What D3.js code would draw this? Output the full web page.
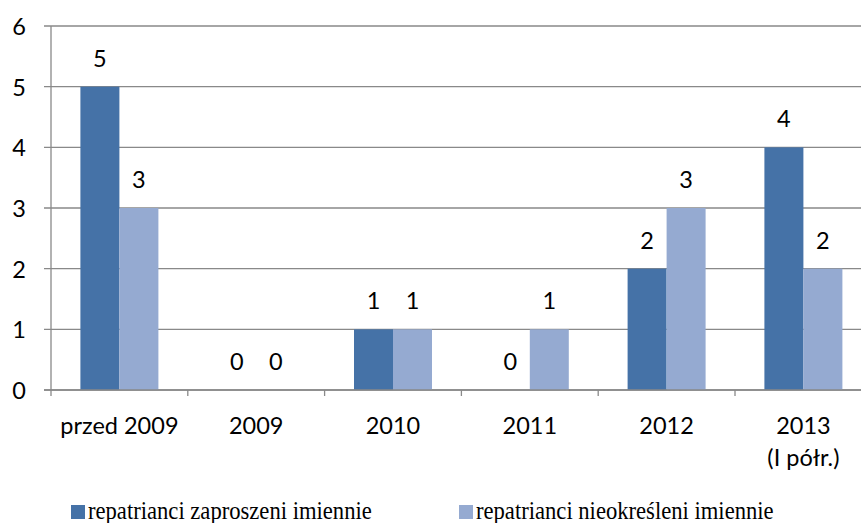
<!DOCTYPE html>
<html><head><meta charset="utf-8">
<script src="https://cdn.jsdelivr.net/npm/d3@7"></script>
<style>
html,body{margin:0;padding:0;background:#fff;}
svg{display:block;}
</style></head>
<body>
<svg id="chart" width="861" height="523"></svg>
<script>
const categories = [["przed 2009"], ["2009"], ["2010"], ["2011"], ["2012"], ["2013", "(I półr.)"]];
const seriesNames = ["repatrianci zaproszeni imiennie", "repatrianci nieokreśleni imiennie"];
const seriesZaproszeni = [5, 0, 1, 0, 2, 4];
const seriesNieokresleni = [3, 0, 1, 1, 3, 2];
const yTicks = [0, 1, 2, 3, 4, 5, 6];
const colors = ["#4572A7", "#95AAD1"];

(function () {
const svg = d3.select("#chart");
const W = 861, H = 523;
const pLeft = 51, pTop = 26, pBottom = 390, pRight = 51 + 6 * 136.8;
const tickFont = "Lato, 'Open Sans', sans-serif";
const fs = 23.5;

const x = d3.scaleBand().domain(categories.map((c, i) => i)).range([pLeft, pRight]).padding(0);
const xs = d3.scaleBand().domain([0, 1]).range([0, x.bandwidth()]).paddingInner(0).paddingOuter(0.754);
const y = d3.scaleLinear().domain([0, 6]).range([pBottom, pTop]);

// gridlines
svg.append("g").selectAll("line").data(yTicks).join("line")
  .attr("x1", pLeft - 7).attr("x2", W)
  .attr("y1", d => y(d)).attr("y2", d => y(d))
  .attr("stroke", "#898989").attr("stroke-width", 1.3);

// bars
const series = [seriesZaproszeni, seriesNieokresleni];
series.forEach((vals, s) => {
  svg.append("g").selectAll("rect").data(vals).join("rect")
    .attr("x", (d, i) => x(i) + xs(s))
    .attr("width", xs.bandwidth())
    .attr("y", d => y(d))
    .attr("height", d => y(0) - y(d))
    .attr("fill", colors[s]);
  svg.append("g").selectAll("text").data(vals).join("text")
    .attr("x", (d, i) => x(i) + xs(s) + xs.bandwidth() / 2)
    .attr("y", d => y(d) - 20)
    .attr("text-anchor", "middle")
    .attr("font-family", tickFont).attr("font-size", fs).attr("fill", "#000")
    .text(d => d);
});

// y axis line
svg.append("line").attr("x1", pLeft).attr("x2", pLeft).attr("y1", y(6)).attr("y2", y(0))
  .attr("stroke", "#898989").attr("stroke-width", 1.3);
// x axis line over bars
svg.append("line").attr("x1", pLeft - 7).attr("x2", W).attr("y1", y(0)).attr("y2", y(0))
  .attr("stroke", "#898989").attr("stroke-width", 1.3);

// x tick marks at category boundaries
svg.append("g").selectAll("line").data(categories.map((c, i) => i)).join("line")
  .attr("x1", d => x(d)).attr("x2", d => x(d))
  .attr("y1", y(0)).attr("y2", y(0) + 6)
  .attr("stroke", "#898989").attr("stroke-width", 1.3);

// y tick labels
svg.append("g").selectAll("text").data(yTicks).join("text")
  .attr("x", 26).attr("y", d => y(d) + 9)
  .attr("text-anchor", "end")
  .attr("font-family", tickFont).attr("font-size", fs).attr("fill", "#000")
  .text(d => d);

// x tick labels
const xl = svg.append("g").selectAll("text").data(categories).join("text")
  .attr("text-anchor", "middle")
  .attr("font-family", tickFont).attr("font-size", fs).attr("fill", "#000");
xl.each(function (c, i) {
  d3.select(this).selectAll("tspan").data(c).join("tspan")
    .attr("x", x(i) + x.bandwidth() / 2)
    .attr("y", (d, j) => 434 + j * 32)
    .text(d => d);
});

// legend
const legX = [71, 459];
const lg = svg.append("g").selectAll("g").data(seriesNames).join("g");
lg.append("rect").attr("x", (d, i) => legX[i]).attr("y", 505).attr("width", 14).attr("height", 14)
  .attr("fill", (d, i) => colors[i]);
lg.append("text")
  .attr("transform", (d, i) => `translate(${legX[i] + 17},519) scale(0.87,1)`)
  .attr("font-family", "'Liberation Serif', 'Times New Roman', Times, serif").attr("font-size", 26)
  .attr("fill", "#000").text(d => d);
})();
</script>
</body></html>
